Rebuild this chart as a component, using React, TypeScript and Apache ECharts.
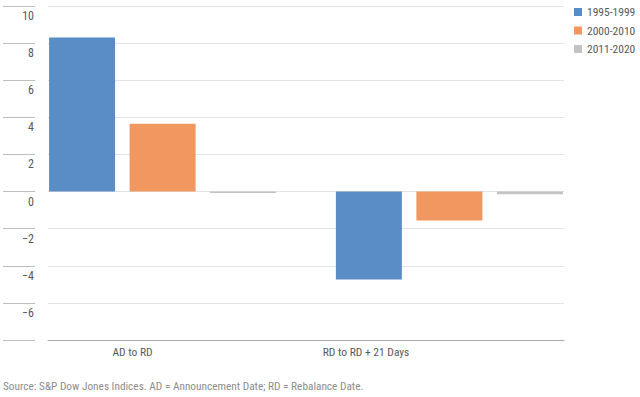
import React, { useEffect, useRef } from "react";
import * as echarts from "echarts";

const categories = ["AD to RD", "RD to RD + 21 Days"];
const seriesNames = ["1995-1999", "2000-2010", "2011-2020"];
const values1995 = [8.3, -4.74];
const values2000 = [3.66, -1.56];
const values2011 = [-0.08, -0.15];
const yMin = -8;
const yMax = 10;
const yInterval = 2;
const sourceNote = "Source: S&P Dow Jones Indices. AD = Announcement Date; RD = Rebalance Date.";

const FONT = "'Roboto Condensed', 'Liberation Sans', sans-serif";
const TEXT = "#595959";
const COLORS = ["#5a8dc6", "#f19760", "#c3c3c3"];

export default function App() {
  const ref = useRef<HTMLDivElement>(null);
  useEffect(() => {
    if (!ref.current) return;
    const chart = echarts.init(ref.current, null, { renderer: "svg" });
    const gridTop = 6;
    const gridBottom = 57;
    chart.setOption({
      animation: false,
      color: COLORS,
      textStyle: { fontFamily: FONT },
      title: {
        text: sourceNote,
        left: 3,
        top: 381,
        padding: 0,
        textStyle: { fontSize: 11.3, fontWeight: "normal", color: "#8c8c8c", fontFamily: FONT },
      },
      legend: {
        orient: "vertical",
        left: 574,
        top: 6,
        padding: 0,
        itemWidth: 8,
        itemHeight: 8,
        itemGap: 6.5,
        icon: "rect",
        data: seriesNames,
        textStyle: { fontSize: 11.5, color: TEXT, fontFamily: FONT, lineHeight: 12 },
      },
      grid: [
        { left: 48, right: 76, top: gridTop, bottom: gridBottom },
        { left: 19.2, right: 47.2, top: gridTop, bottom: gridBottom },
        { left: 15.75, right: 157.25, top: gridTop, bottom: gridBottom },
      ],
      xAxis: [
        {
          gridIndex: 0,
          type: "category",
          data: categories,
          axisLine: { onZero: false, lineStyle: { color: "#a6a6a6", width: 1 } },
          axisTick: { show: false },
          axisLabel: { show: false },
        },
        { gridIndex: 1, type: "category", data: categories, show: false },
        {
          gridIndex: 2,
          type: "category",
          data: categories,
          axisLine: { show: false },
          axisTick: { show: false },
          axisLabel: { margin: 6, fontSize: 11.5, color: TEXT, fontFamily: FONT },
        },
      ],
      yAxis: [
        {
          gridIndex: 0,
          type: "value",
          min: yMin,
          max: yMax,
          interval: yInterval,
          offset: 13,
          axisLine: { show: false },
          axisTick: { show: true, length: 32, lineStyle: { color: "#bfbfbf" } },
          axisLabel: {
            margin: 1,
            verticalAlign: "top",
            padding: [4, 0, 0, 0],
            fontSize: 12,
            color: TEXT,
            fontFamily: FONT,
            formatter: (v: number) => (v === yMin ? "" : v < 0 ? "\u2212" + Math.abs(v) : String(v)),
          },
          splitLine: { lineStyle: { color: "#e3e3e3" } },
        },
        { gridIndex: 1, type: "value", min: yMin, max: yMax, interval: yInterval, show: false, splitLine: { show: false } },
        { gridIndex: 2, type: "value", min: yMin, max: yMax, interval: yInterval, show: false, splitLine: { show: false } },
      ],
      series: [values1995, values2000, values2011].map((d, i) => ({
        name: seriesNames[i],
        type: "bar",
        xAxisIndex: 1,
        yAxisIndex: 1,
        data: d,
        barWidth: 66,
        barGap: "22%",
        itemStyle: { color: COLORS[i] },
      })),
    });
    return () => chart.dispose();
  }, []);
  return (
    <div
      ref={ref}
      style={{ position: "fixed", left: 0, top: 0, width: 640, height: 397, background: "#fff" }}
    />
  );
}
